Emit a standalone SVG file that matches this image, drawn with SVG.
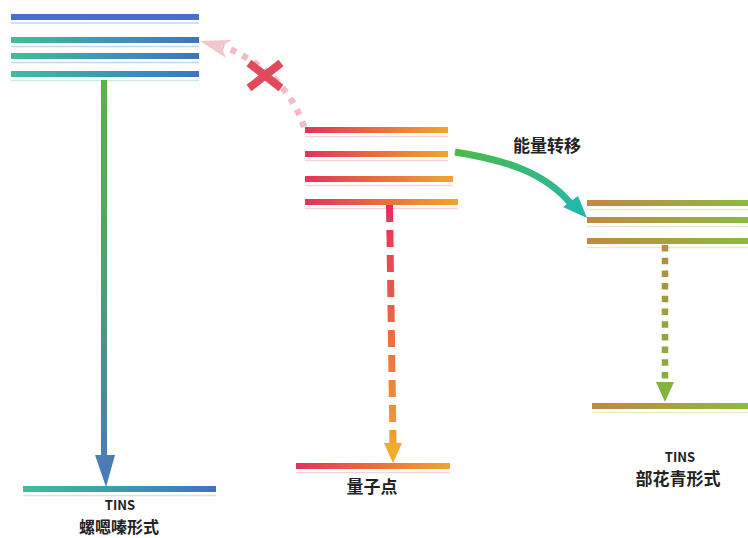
<svg xmlns="http://www.w3.org/2000/svg" width="748" height="538" viewBox="0 0 748 538">
<defs>
<linearGradient id="gTeal" x1="0" y1="0" x2="1" y2="0"><stop offset="0" stop-color="#3dbf9c"/><stop offset="1" stop-color="#3f72c6"/></linearGradient>
<linearGradient id="gBlue" x1="0" y1="0" x2="1" y2="0"><stop offset="0" stop-color="#4a6fcb"/><stop offset="1" stop-color="#4a70c8"/></linearGradient>
<linearGradient id="gQD" x1="0" y1="0" x2="1" y2="0"><stop offset="0" stop-color="#e8305c"/><stop offset="1" stop-color="#f2a628"/></linearGradient>
<linearGradient id="gCy" x1="0" y1="0" x2="1" y2="0"><stop offset="0" stop-color="#c28840"/><stop offset="1" stop-color="#8cba40"/></linearGradient>
<linearGradient id="gArrL" gradientUnits="userSpaceOnUse" x1="0" y1="80" x2="0" y2="488"><stop offset="0" stop-color="#5cb24a"/><stop offset="0.35" stop-color="#52a860"/><stop offset="1" stop-color="#4a78bc"/></linearGradient>
<linearGradient id="gArrM" gradientUnits="userSpaceOnUse" x1="0" y1="205" x2="0" y2="463"><stop offset="0" stop-color="#e82c5e"/><stop offset="1" stop-color="#f2aa2a"/></linearGradient>
<linearGradient id="gArrR" gradientUnits="userSpaceOnUse" x1="0" y1="245" x2="0" y2="402"><stop offset="0" stop-color="#b68c40"/><stop offset="1" stop-color="#7eb43e"/></linearGradient>
<linearGradient id="gCurve" gradientUnits="userSpaceOnUse" x1="455" y1="152" x2="587" y2="218"><stop offset="0" stop-color="#4cbb46"/><stop offset="1" stop-color="#22b8ac"/></linearGradient>
</defs>
<style>
.lbl{font-family:"Noto Sans CJK SC","Noto Sans",sans-serif;font-weight:bold;fill:#222;text-anchor:middle}
.en{font-size:13px}
.cn{font-size:17px}
.cns{font-size:16px}
.fL{stroke:#cbd2ee;stroke-width:1.5}
.fLT{stroke:#c6ece6;stroke-width:1.5}
.fM{stroke:#f7d4d8;stroke-width:1.5}
.fR{stroke:#e6ecc8;stroke-width:1.5}
</style>

<g id="tins-spiro">
<rect x="11" y="14" width="188" height="6" fill="url(#gBlue)"/>
<line class="fL" x1="11" y1="23" x2="199" y2="23"/>
<rect x="11" y="37" width="188" height="6" fill="url(#gTeal)"/>
<line class="fL" x1="11" y1="46.5" x2="199" y2="46.5"/>
<rect x="11" y="53" width="188" height="6" fill="url(#gTeal)"/>
<line class="fL" x1="11" y1="62.5" x2="199" y2="62.5"/>
<rect x="11" y="71" width="188" height="6" fill="url(#gTeal)"/>
<line class="fLT" x1="11" y1="80.5" x2="199" y2="80.5"/>
</g>

<g id="tins-spiro-ground">
<rect x="23" y="486" width="193" height="6" fill="url(#gTeal)"/>
<line class="fLT" x1="23" y1="495.5" x2="216" y2="495.5"/>
<text class="lbl en" x="120" y="510">TINS</text>
<text class="lbl cns" x="119" y="532.5">螺嗯嗪形式</text>
</g>

<g id="qd-excited">
<rect x="305" y="127" width="143" height="6" fill="url(#gQD)"/>
<line class="fM" x1="305" y1="136.5" x2="448" y2="136.5"/>
<rect x="305" y="151" width="143" height="6" fill="url(#gQD)"/>
<line class="fM" x1="305" y1="160.5" x2="448" y2="160.5"/>
<rect x="305" y="176" width="148" height="6" fill="url(#gQD)"/>
<line class="fM" x1="305" y1="185.5" x2="453" y2="185.5"/>
<rect x="305" y="199" width="153" height="6" fill="url(#gQD)"/>
<line class="fM" x1="305" y1="208.5" x2="458" y2="208.5"/>
</g>

<g id="qd-ground">
<rect x="296" y="463" width="154" height="6" fill="url(#gQD)"/>
<line class="fM" x1="296" y1="472.5" x2="450" y2="472.5"/>
<text class="lbl cn" x="372" y="493">量子点</text>
</g>

<g id="tins-mero">
<rect x="587" y="200" width="161" height="6" fill="url(#gCy)"/>
<line class="fR" x1="587" y1="209.5" x2="748" y2="209.5"/>
<rect x="587" y="217" width="161" height="6" fill="url(#gCy)"/>
<line class="fR" x1="587" y1="226.5" x2="748" y2="226.5"/>
<rect x="587" y="238" width="161" height="6" fill="url(#gCy)"/>
<line class="fR" x1="587" y1="247.5" x2="748" y2="247.5"/>
</g>

<g id="tins-mero-ground">
<rect x="592" y="403" width="156" height="6" fill="url(#gCy)"/>
<line class="fR" x1="592" y1="412.5" x2="748" y2="412.5"/>
<text class="lbl en" x="680" y="462">TINS</text>
<text class="lbl cn" x="678" y="485">部花青形式</text>
</g>

<g id="connectors">
<rect x="101" y="80" width="6" height="378" fill="url(#gArrL)"/>
<polygon points="95,455 115,455 106,487" fill="url(#gArrL)"/>
<line x1="389.5" y1="205" x2="393" y2="444" stroke="url(#gArrM)" stroke-width="7" stroke-dasharray="17,8"/>
<polygon points="384,443 402,443 393,463" fill="#f2aa2a"/>
<line x1="665" y1="245" x2="665" y2="384" stroke="url(#gArrR)" stroke-width="6.5" stroke-dasharray="6.5,6.2"/>
<polygon points="656,382 674,382 665,402" fill="#80b43e"/>
<path d="M455,152 C505,160 545,172 572,205" fill="none" stroke="url(#gCurve)" stroke-width="7"/>
<polygon points="587,218 563,207 578,196" fill="#22b8ac"/>
<text class="lbl cn" x="547" y="152">能量转移</text>
<path d="M304,127 C292,90 264,62 222,46" fill="none" stroke="#f2bcc6" stroke-width="6.5" stroke-dasharray="6,7"/>
<polygon points="200,41 232,40 221,46 226,58" fill="#f5c4cc"/>
<g stroke="#e24a5a" stroke-width="8" stroke-linecap="butt">
<line x1="249" y1="63" x2="281" y2="88"/>
<line x1="281" y1="63" x2="249" y2="88"/>
</g>
</g>
</svg>
